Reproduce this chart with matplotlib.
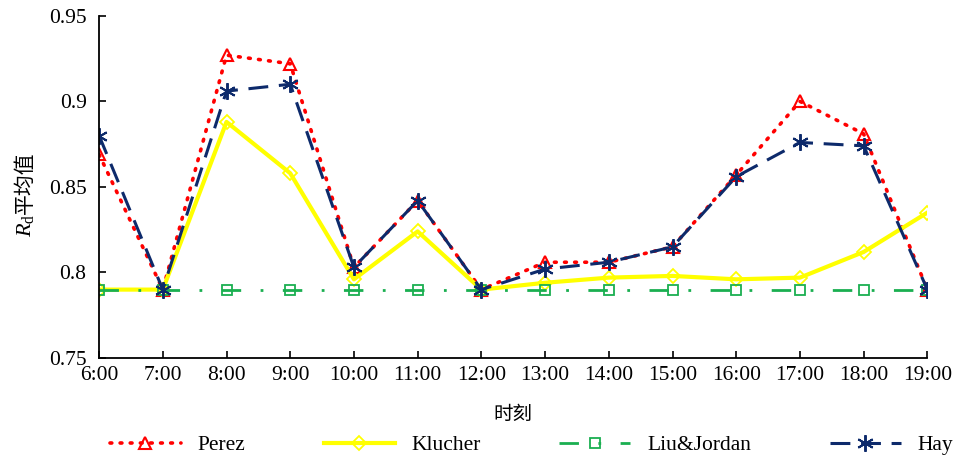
import matplotlib
matplotlib.use("Agg")
import matplotlib.pyplot as plt

plt.rcParams["font.family"] = ["Liberation Serif", "Noto Sans CJK SC"]
plt.rcParams["mathtext.fontset"] = "custom"
plt.rcParams["mathtext.rm"] = "Liberation Serif"
plt.rcParams["mathtext.it"] = "Liberation Serif:italic"

hours = ["6:00", "7:00", "8:00", "9:00", "10:00", "11:00", "12:00",
         "13:00", "14:00", "15:00", "16:00", "17:00", "18:00", "19:00"]
perez = [0.869, 0.790, 0.927, 0.922, 0.803, 0.842, 0.790,
         0.806, 0.806, 0.815, 0.857, 0.900, 0.881, 0.790]
klucher = [0.790, 0.790, 0.888, 0.858, 0.796, 0.824, 0.790,
           0.794, 0.797, 0.798, 0.796, 0.797, 0.812, 0.835]
liu_jordan = [0.790] * 14
hay = [0.880, 0.790, 0.906, 0.910, 0.803, 0.842, 0.790,
       0.802, 0.806, 0.815, 0.856, 0.876, 0.874, 0.790]

fig = plt.figure(figsize=(9.62, 4.65), dpi=100)
ax = fig.add_axes([0.103, 0.230, 0.861, 0.736])
x = list(range(len(hours)))

ax.plot(x, perez, color="#ff0000", lw=2.6, ls=(0, (0.5, 2.3)),
        dash_capstyle="round", marker="^", ms=9, mfc="none", mew=1.5,
        label="Perez")
ax.plot(x, klucher, color="#ffff00", lw=3, marker="D", ms=7, mfc="none",
        mew=1.3, label="Klucher")
ax.plot(x, liu_jordan, color="#1aaf50", lw=2, ls=(0, (7, 7, 1, 7)),
        marker="s", ms=7, mfc="none", mew=1.3, label="Liu&Jordan")
ax.plot(x, hay, color="#0d2a6b", lw=2.2, ls=(0, (6.5, 3.5)),
        marker=(6, 2, 0), ms=12, mew=1.4, label="Hay")

ax.set_xlim(0, len(hours) - 1)
ax.set_ylim(0.75, 0.95)
ax.set_xticks(x)
ax.set_xticklabels(hours)
ax.set_yticks([0.75, 0.8, 0.85, 0.9, 0.95])
ax.set_yticklabels(["0.75", "0.8", "0.85", "0.9", "0.95"])
ax.tick_params(direction="in", labelsize=15.5, length=5, width=1.2)
ax.tick_params(axis="y", pad=9)
ax.tick_params(axis="x", pad=6)
for side in ["top", "right"]:
    ax.spines[side].set_visible(False)
for side in ["left", "bottom"]:
    ax.spines[side].set_linewidth(1.3)

ax.set_xlabel("时刻", fontsize=14, labelpad=15)

# y label: italic R with subscript d, then the Chinese part above it
t1 = fig.text(0.027, 0.49, r"$R_\mathrm{d}$", fontsize=16, rotation=90,
              rotation_mode="anchor", ha="left", va="center")
fig.canvas.draw()
bb = t1.get_window_extent()
y_next = bb.y1 / fig.bbox.height
fig.text(0.027, y_next, "平均值", fontsize=15, rotation=90,
         rotation_mode="anchor", ha="left", va="center")

fig.legend(loc="center left", bbox_to_anchor=(0.105, 0.043, 0.895, 0.0),
           mode="expand", ncol=4, frameon=False, fontsize=15.5,
           handlelength=3.3, handletextpad=0.8, borderaxespad=0)

fig.savefig("out.png", dpi=100)
